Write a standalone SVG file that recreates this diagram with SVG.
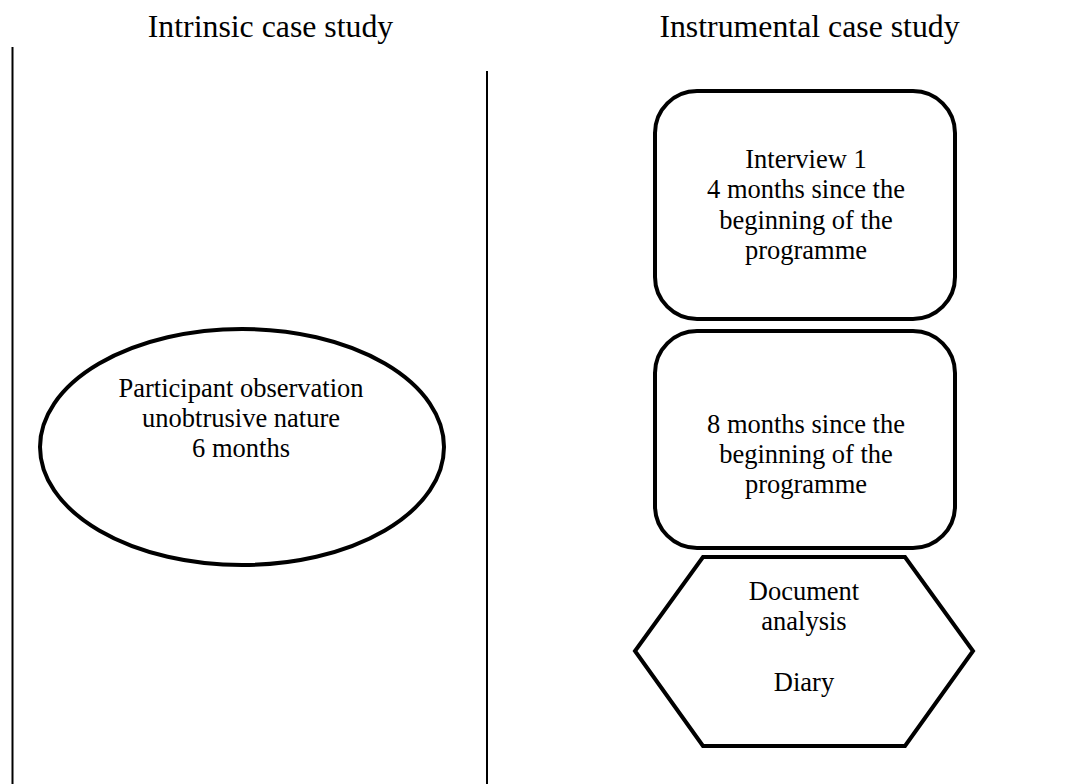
<svg xmlns="http://www.w3.org/2000/svg" width="1085" height="784" viewBox="0 0 1085 784">
<style>
.bg{fill:#ffffff}
.shape{fill:#ffffff;stroke:#000000;stroke-width:4}
.divider{stroke:#000000;stroke-width:2;fill:none}
.title{font-family:"Liberation Serif","Times New Roman",serif;font-size:31.8px;fill:#000000;text-anchor:middle}
.label{font-family:"Liberation Serif","Times New Roman",serif;font-size:26.5px;fill:#000000;text-anchor:middle}
</style>
<rect class="bg" x="0" y="0" width="1085" height="784"/>
<g id="dividers">
<line class="divider" x1="12.5" y1="47" x2="12.5" y2="784"/>
<line class="divider" x1="487" y1="71" x2="487" y2="784"/>
</g>
<g id="title-intrinsic">
<text class="title" x="270.5" y="37">Intrinsic case study</text>
</g>
<g id="title-instrumental">
<text class="title" x="809.5" y="37">Instrumental case study</text>
</g>
<g id="participant-observation">
<ellipse class="shape" cx="242" cy="447" rx="202" ry="118"/>
<text class="label" x="241" y="397">Participant observation</text>
<text class="label" x="241" y="427">unobtrusive nature</text>
<text class="label" x="241" y="457">6 months</text>
</g>
<g id="interview-1">
<rect class="shape" x="655" y="91" width="300" height="228" rx="42" ry="42"/>
<text class="label" x="806" y="168">Interview 1</text>
<text class="label" x="806" y="198">4 months since the</text>
<text class="label" x="806" y="229">beginning of the</text>
<text class="label" x="806" y="259">programme</text>
</g>
<g id="interview-2">
<rect class="shape" x="655" y="331" width="300" height="217" rx="42" ry="42"/>
<text class="label" x="806" y="433">8 months since the</text>
<text class="label" x="806" y="463">beginning of the</text>
<text class="label" x="806" y="493">programme</text>
</g>
<g id="document-analysis">
<polygon class="shape" points="703,557 905,557 973,651 905,746 703,746 635,651"/>
<text class="label" x="804" y="600">Document</text>
<text class="label" x="804" y="630">analysis</text>
<text class="label" x="804" y="691">Diary</text>
</g>
<g id="connectors"></g>
</svg>
